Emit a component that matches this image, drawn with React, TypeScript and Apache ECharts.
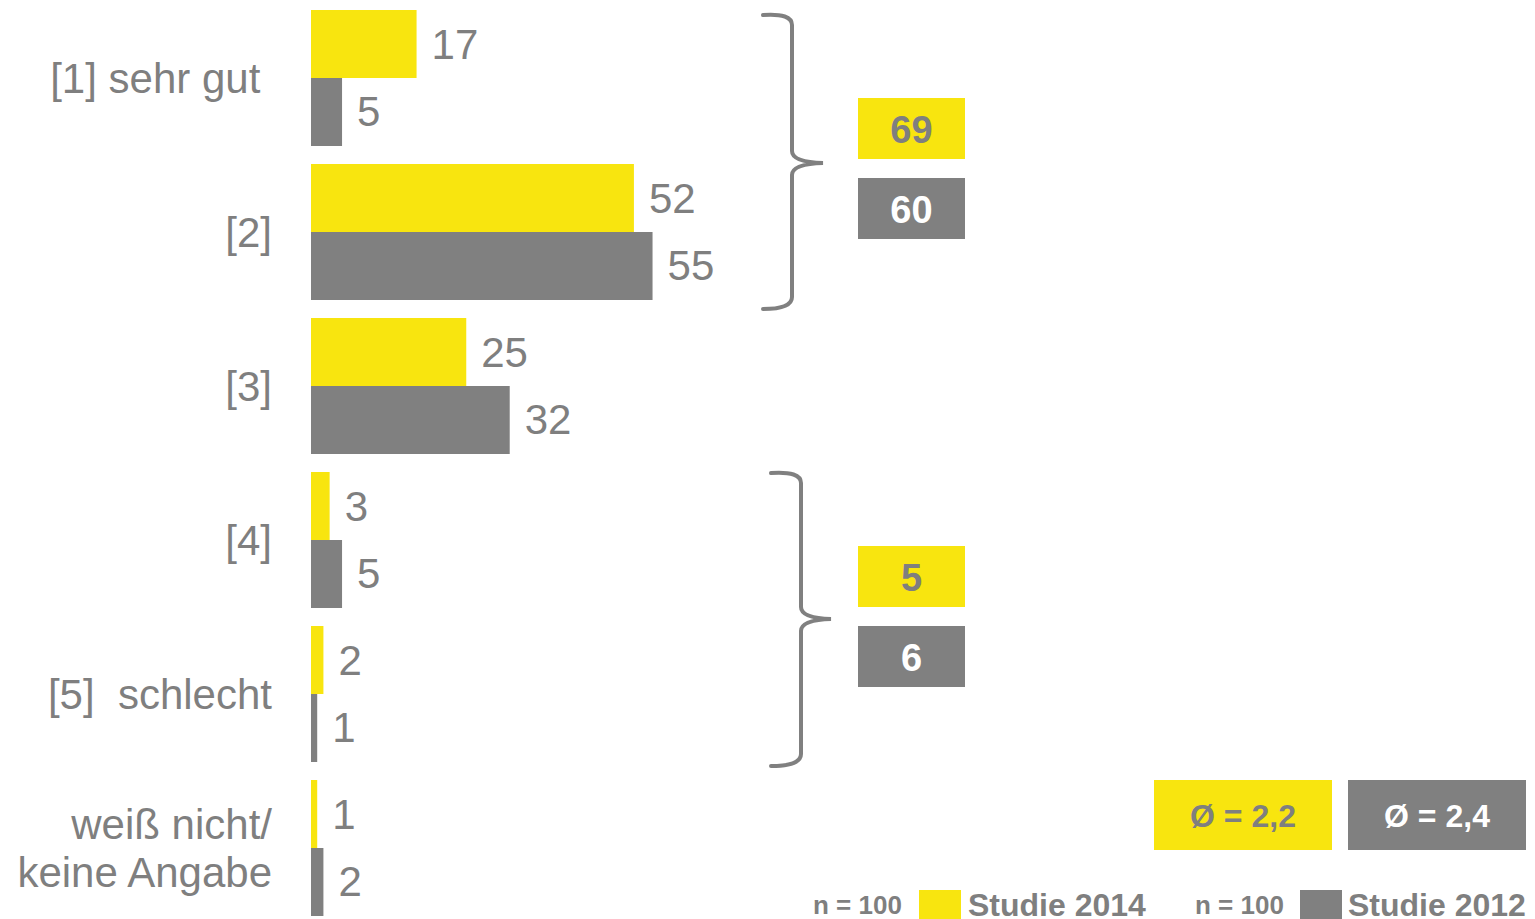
import React, { useEffect, useRef } from "react";
import * as echarts from "echarts";

const categories = [
  "[1] sehr gut ",
  "[2]",
  "[3]",
  "[4]",
  "[5]  schlecht",
  "weiß nicht/\nkeine Angabe",
];
const study2014 = [17, 52, 25, 3, 2, 1];
const study2012 = [5, 55, 32, 5, 1, 2];
const topBox = { y2014: "69", y2012: "60" };
const bottomBox = { y2014: "5", y2012: "6" };
const mean2014 = "Ø = 2,2";
const mean2012 = "Ø = 2,4";
const nLabel = "n = 100";
const legendNames = ["Studie 2014", "Studie 2012"];

const YELLOW = "#F8E50F";
const GRAY = "#808080";
const TEXT = "#7F7F7F";
const FONT = "'Liberation Sans', Arial, Helvetica, sans-serif";

let registered = false;
function registerBraces() {
  if (registered) return;
  registered = true;
  echarts.graphic.registerShape(
    "brace1",
    echarts.graphic.extendPath(
      "M763,15 Q792,13 792,25 L792,151 Q792,162 823,163 Q792,164 792,175 L792,297 Q792,309 763,309",
      {}
    )
  );
  echarts.graphic.registerShape(
    "brace2",
    echarts.graphic.extendPath(
      "M771,473 Q801,471 801,483 L801,607 Q801,618 831,619 Q801,620 801,631 L801,754 Q801,766 771,766",
      {}
    )
  );
}

export default function App() {
  const ref = useRef<HTMLDivElement>(null);
  useEffect(() => {
    if (!ref.current) return;
    registerBraces();
    const chart = echarts.init(ref.current, null, { renderer: "svg" });
    const valueLabel = {
      show: true,
      position: "right",
      distance: 15,
      fontSize: 42,
      color: TEXT,
      fontFamily: FONT,
    };
    const braceStyle = { stroke: GRAY, lineWidth: 4, fill: null, lineCap: "round" };
    const box = (x: number, y: number, w: number, h: number, fill: string, text: string, color: string, size: number) => ({
      type: "group",
      children: [
        { type: "rect", shape: { x, y, width: w, height: h }, style: { fill } },
        {
          type: "text",
          x: x + w / 2,
          y: y + h / 2 + 1,
          style: { text, fill: color, font: `bold ${size}px ${FONT}`, align: "center", verticalAlign: "middle" },
        },
      ],
    });
    chart.setOption({
      animation: false,
      grid: { left: 311, top: 1, width: 621, height: 924, containLabel: false },
      xAxis: { type: "value", min: 0, max: 100, show: false },
      yAxis: {
        type: "category",
        inverse: true,
        data: categories,
        axisLine: { show: false },
        axisTick: { show: false },
        axisLabel: {
          margin: 39,
          fontSize: 42,
          lineHeight: 48,
          color: TEXT,
          fontFamily: FONT,
          align: "right",
        },
      },
      series: [
        {
          name: legendNames[0],
          type: "bar",
          data: study2014,
          itemStyle: { color: YELLOW },
          barGap: "0%",
          barCategoryGap: "11.7%",
          label: valueLabel,
        },
        {
          name: legendNames[1],
          type: "bar",
          data: study2012,
          itemStyle: { color: GRAY },
          barGap: "0%",
          barCategoryGap: "11.7%",
          label: valueLabel,
        },
      ],
      graphic: [
        { type: "brace1", x: 0, y: 0, style: braceStyle },
        { type: "brace2", x: 0, y: 0, style: braceStyle },
        box(858, 98, 107, 61, YELLOW, topBox.y2014, TEXT, 38),
        box(858, 178, 107, 61, GRAY, topBox.y2012, "#FFFFFF", 38),
        box(858, 546, 107, 61, YELLOW, bottomBox.y2014, TEXT, 38),
        box(858, 626, 107, 61, GRAY, bottomBox.y2012, "#FFFFFF", 38),
        box(1154, 780, 178, 70, YELLOW, mean2014, TEXT, 32),
        box(1348, 780, 178, 70, GRAY, mean2012, "#FFFFFF", 32),
        {
          type: "text",
          x: 813,
          y: 905,
          style: { text: nLabel, fill: TEXT, font: `bold 26px ${FONT}`, verticalAlign: "middle" },
        },
        { type: "rect", shape: { x: 919, y: 890, width: 42, height: 32 }, style: { fill: YELLOW } },
        {
          type: "text",
          x: 968,
          y: 905,
          style: { text: legendNames[0], fill: TEXT, font: `bold 32px ${FONT}`, verticalAlign: "middle" },
        },
        {
          type: "text",
          x: 1195,
          y: 905,
          style: { text: nLabel, fill: TEXT, font: `bold 26px ${FONT}`, verticalAlign: "middle" },
        },
        { type: "rect", shape: { x: 1300, y: 890, width: 42, height: 32 }, style: { fill: GRAY } },
        {
          type: "text",
          x: 1348,
          y: 905,
          style: { text: legendNames[1], fill: TEXT, font: `bold 32px ${FONT}`, verticalAlign: "middle" },
        },
      ],
    });
    return () => chart.dispose();
  }, []);
  return (
    <div
      ref={ref}
      style={{ position: "fixed", left: 0, top: 0, width: 1535, height: 930, background: "#fff" }}
    />
  );
}
